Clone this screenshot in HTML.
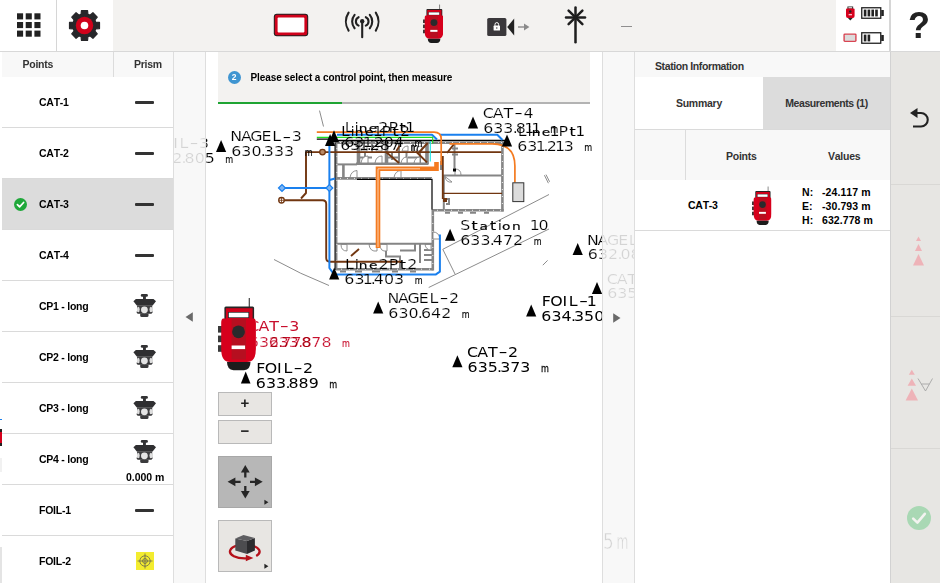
<!DOCTYPE html>
<html lang="en">
<head>
<meta charset="utf-8">
<title>Station Setup</title>
<style>
*{box-sizing:border-box;margin:0;padding:0}
html,body{width:940px;height:583px;overflow:hidden;background:#fff}
body{position:relative;font-family:"Liberation Sans",sans-serif;font-weight:bold;font-size:10.5px;color:#000;letter-spacing:-0.25px;font-kerning:none}
.abs{position:absolute}
/* top bar */
#top{position:absolute;left:0;top:0;width:940px;height:52px;background:#f3f2f0;border-bottom:1px solid #d8d8d8}
#top .box{position:absolute;top:0;height:51px;background:#fff}
#top svg{position:absolute}
/* left panel */
#left{position:absolute;left:2px;top:52px;width:171px;height:531px;background:#fff}
#left .hd{position:absolute;left:0;top:0;width:171px;height:25px;background:#f8f8f8;color:#333}
#left .hd span{position:absolute;top:6px;line-height:13px}
#left .hd i{position:absolute;left:111px;top:0;width:1px;height:25px;background:#dcdcdc}
.row{position:absolute;left:0;width:171px;height:51px;border-bottom:1px solid #dadada}
.row.sel{background:#dcdcdc}
.row .nm{position:absolute;left:37px;top:18px;line-height:14px;font-size:10.5px}
.row .dash{position:absolute;left:133px;top:24px;width:19px;height:3px;border-radius:1px;background:#333}
.row svg{position:absolute}
/* strips */
.strip{position:absolute;top:52px;height:531px;width:33px;background:rgba(247,247,247,0.86);border-left:1px solid #dedede;border-right:1px solid #dedede}
/* right panel */
#right{position:absolute;left:635px;top:52px;width:255px;height:531px;background:#fff}
#rbar{position:absolute;left:890px;top:52px;width:50px;height:531px;background:#e7e6e3;border-left:1px solid #d2d2d2}
#rbar i{position:absolute;left:0;width:49px;height:1px;background:#d9d8d5}
.lb text{mix-blend-mode:multiply}
.mbtn{position:absolute;left:218px;width:54px;background:#e8e6e3;border:1px solid #b9b9b9}
</style>
</head>
<body>

<!-- MAP -->
<svg id="map" class="abs" style="left:173px;top:52px" width="462" height="531" viewBox="173 52 462 531">
<g fill="none" stroke="#8c8c8c" stroke-width="1">
<path d="M319.5 110.6L323.5 126.5"/>
<path d="M274 259.5Q300 274 329 285.5"/>
<path d="M442.8 249.3L549 194.5"/>
<path d="M428.7 287.5L549 229"/>
<path d="M442.8 249.3L455 274"/>
<path d="M542.8 265.2L547.6 260.4"/>
<path d="M544.4 175.2L548.4 183.2M546 174.6L549.6 181.8"/>
</g>
<g fill="none" stroke="#858585" stroke-width="2.6">
<path d="M335.5 142.6H503.5"/>
<path d="M336.600 142V270" stroke-width="1.700"/>
<path d="M336 269.2H433.5"/>
<path d="M432.8 209V270.4"/>
<path d="M432 210.3H503.7"/>
<path d="M502.4 141V211.5"/>
<path d="M336 178.4H432"/>
<path d="M356 163.8H428.5"/>
<path d="M343.4 164V178"/>
</g>
<g fill="none" stroke="#858585" stroke-width="3.6">
<path d="M358.5 143V164M386.5 143V164M427 143V164"/>
</g>
<g fill="none" stroke="#858585" stroke-width="2">
<path d="M336 164.4H357"/>
<path d="M372 143V152M399 143V164M406.500 152V164M413 143V152M420 152V164"/>
<path d="M360 157.500H372M388 157.500H398M408 157.500H419M365 152.500V157M392 152.500V160"/>
<path d="M454.500 144V168.500M452 148.500H458M452 154.500H458"/>
<path d="M443 175.600H502"/>
<path d="M443.800 175.600V210"/>
<path d="M336 243.700H433"/>
<path d="M386 244V256.500H400V269M400 250.500H415V244"/>
<path d="M420 244V263M424 250H432M424 255H432M424 260H432"/>
<path d="M446 199H449V204H446M441 161V170"/>
<path d="M445 212.700H450M458 212.700H463M470 212.700H476M484 212.700H489"/>
<path d="M340 271.500H346M355 271.500H362M372 271.500H380M392 271.500H398M410 271.500H416"/>
</g>
<g fill="#fff" stroke="#858585" stroke-width="0.900">
<path d="M341 244.500Q341 251 347 251L347 244.500Z"/><path d="M369 244.500Q370 252 377 251L377 244.500Z"/><path d="M380 244.500Q380 252 387 251V244.500Z"/>
<path d="M350 177.500Q351 171 357 170.500V177.500Z"/><path d="M394 177.500Q395 171 401 170.500V177.500Z"/>
<path d="M445 176.500Q446 183 452 182L445 176.500"/><path d="M455 169Q461 169 461 175H455Z"/>
<path d="M433 232Q439 232 440 239L433 239Z"/><path d="M425 244.500Q426 250 431 250V244.500Z"/>
<path d="M361 163Q362 156 368 156L368 163ZM375 163Q376 156 382 156V163ZM401 163Q402 157 407 157V163ZM414 163Q415 157 420 157V163Z"/>
<path d="M361 151Q362 146 367 146V151ZM376 151Q377 146 382 146V151ZM402 151Q403 146 408 146V151ZM416 151Q417 146 422 146V151Z"/>
</g>
<g fill="#fff"><rect x="340.0" y="142.1" width="1" height="1" opacity="0.850"/><rect x="347.0" y="142.1" width="1" height="1" opacity="0.850"/><rect x="354.0" y="142.1" width="1" height="1" opacity="0.850"/><rect x="361.0" y="142.1" width="1" height="1" opacity="0.850"/><rect x="368.0" y="142.1" width="1" height="1" opacity="0.850"/><rect x="375.0" y="142.1" width="1" height="1" opacity="0.850"/><rect x="382.0" y="142.1" width="1" height="1" opacity="0.850"/><rect x="389.0" y="142.1" width="1" height="1" opacity="0.850"/><rect x="396.0" y="142.1" width="1" height="1" opacity="0.850"/><rect x="403.0" y="142.1" width="1" height="1" opacity="0.850"/><rect x="410.0" y="142.1" width="1" height="1" opacity="0.850"/><rect x="417.0" y="142.1" width="1" height="1" opacity="0.850"/><rect x="424.0" y="142.1" width="1" height="1" opacity="0.850"/><rect x="431.0" y="142.1" width="1" height="1" opacity="0.850"/><rect x="438.0" y="142.1" width="1" height="1" opacity="0.850"/><rect x="445.0" y="142.1" width="1" height="1" opacity="0.850"/><rect x="452.0" y="142.1" width="1" height="1" opacity="0.850"/><rect x="459.0" y="142.1" width="1" height="1" opacity="0.850"/><rect x="466.0" y="142.1" width="1" height="1" opacity="0.850"/><rect x="473.0" y="142.1" width="1" height="1" opacity="0.850"/><rect x="480.0" y="142.1" width="1" height="1" opacity="0.850"/><rect x="487.0" y="142.1" width="1" height="1" opacity="0.850"/><rect x="494.0" y="142.1" width="1" height="1" opacity="0.850"/><rect x="501.0" y="142.1" width="1" height="1" opacity="0.850"/><rect x="501.9" y="147.0" width="1" height="1" opacity="0.850"/><rect x="501.9" y="154.0" width="1" height="1" opacity="0.850"/><rect x="501.9" y="161.0" width="1" height="1" opacity="0.850"/><rect x="501.9" y="168.0" width="1" height="1" opacity="0.850"/><rect x="501.9" y="175.0" width="1" height="1" opacity="0.850"/><rect x="501.9" y="182.0" width="1" height="1" opacity="0.850"/><rect x="501.9" y="189.0" width="1" height="1" opacity="0.850"/><rect x="501.9" y="196.0" width="1" height="1" opacity="0.850"/><rect x="501.9" y="203.0" width="1" height="1" opacity="0.850"/><rect x="437.0" y="209.8" width="1" height="1" opacity="0.850"/><rect x="444.0" y="209.8" width="1" height="1" opacity="0.850"/><rect x="451.0" y="209.8" width="1" height="1" opacity="0.850"/><rect x="458.0" y="209.8" width="1" height="1" opacity="0.850"/><rect x="465.0" y="209.8" width="1" height="1" opacity="0.850"/><rect x="472.0" y="209.8" width="1" height="1" opacity="0.850"/><rect x="479.0" y="209.8" width="1" height="1" opacity="0.850"/><rect x="486.0" y="209.8" width="1" height="1" opacity="0.850"/><rect x="493.0" y="209.8" width="1" height="1" opacity="0.850"/><rect x="500.0" y="209.8" width="1" height="1" opacity="0.850"/><rect x="336.4" y="148.0" width="1" height="1" opacity="0.850"/><rect x="336.4" y="156.0" width="1" height="1" opacity="0.850"/><rect x="336.4" y="164.0" width="1" height="1" opacity="0.850"/><rect x="336.4" y="172.0" width="1" height="1" opacity="0.850"/><rect x="336.4" y="180.0" width="1" height="1" opacity="0.850"/><rect x="336.4" y="188.0" width="1" height="1" opacity="0.850"/><rect x="336.4" y="196.0" width="1" height="1" opacity="0.850"/><rect x="336.4" y="204.0" width="1" height="1" opacity="0.850"/><rect x="336.4" y="212.0" width="1" height="1" opacity="0.850"/><rect x="336.4" y="220.0" width="1" height="1" opacity="0.850"/><rect x="336.4" y="228.0" width="1" height="1" opacity="0.850"/><rect x="336.4" y="236.0" width="1" height="1" opacity="0.850"/><rect x="336.4" y="244.0" width="1" height="1" opacity="0.850"/><rect x="336.4" y="252.0" width="1" height="1" opacity="0.850"/><rect x="336.4" y="260.0" width="1" height="1" opacity="0.850"/><rect x="340.0" y="177.9" width="1" height="1" opacity="0.850"/><rect x="347.0" y="177.9" width="1" height="1" opacity="0.850"/><rect x="354.0" y="177.9" width="1" height="1" opacity="0.850"/><rect x="361.0" y="177.9" width="1" height="1" opacity="0.850"/><rect x="368.0" y="177.9" width="1" height="1" opacity="0.850"/><rect x="375.0" y="177.9" width="1" height="1" opacity="0.850"/><rect x="382.0" y="177.9" width="1" height="1" opacity="0.850"/><rect x="389.0" y="177.9" width="1" height="1" opacity="0.850"/><rect x="396.0" y="177.9" width="1" height="1" opacity="0.850"/><rect x="403.0" y="177.9" width="1" height="1" opacity="0.850"/><rect x="410.0" y="177.9" width="1" height="1" opacity="0.850"/><rect x="417.0" y="177.9" width="1" height="1" opacity="0.850"/><rect x="424.0" y="177.9" width="1" height="1" opacity="0.850"/><rect x="431.0" y="177.9" width="1" height="1" opacity="0.850"/><rect x="341.0" y="268.7" width="1" height="1" opacity="0.850"/><rect x="349.0" y="268.7" width="1" height="1" opacity="0.850"/><rect x="357.0" y="268.7" width="1" height="1" opacity="0.850"/><rect x="365.0" y="268.7" width="1" height="1" opacity="0.850"/><rect x="373.0" y="268.7" width="1" height="1" opacity="0.850"/><rect x="381.0" y="268.7" width="1" height="1" opacity="0.850"/><rect x="389.0" y="268.7" width="1" height="1" opacity="0.850"/><rect x="397.0" y="268.7" width="1" height="1" opacity="0.850"/><rect x="405.0" y="268.7" width="1" height="1" opacity="0.850"/><rect x="413.0" y="268.7" width="1" height="1" opacity="0.850"/><rect x="421.0" y="268.7" width="1" height="1" opacity="0.850"/><rect x="429.0" y="268.7" width="1" height="1" opacity="0.850"/><rect x="432.3" y="215.0" width="1" height="1" opacity="0.850"/><rect x="432.3" y="223.0" width="1" height="1" opacity="0.850"/><rect x="432.3" y="231.0" width="1" height="1" opacity="0.850"/><rect x="432.3" y="239.0" width="1" height="1" opacity="0.850"/><rect x="432.3" y="247.0" width="1" height="1" opacity="0.850"/><rect x="432.3" y="255.0" width="1" height="1" opacity="0.850"/><rect x="432.3" y="263.0" width="1" height="1" opacity="0.850"/></g>
<rect x="453" y="168.500" width="3" height="3" fill="#000"/>
<g fill="none" stroke="#000" stroke-width="1.2">
<path d="M316.8 139.2H335M335 140.4H505"/>
<path d="M335.1 142.5V270"/>
<path d="M357 179.4H432V209.4"/>
</g>
<g fill="none" stroke="#713610" stroke-width="1.900" stroke-linejoin="round">
<path d="M501.3 152.1H306V193L301 198.5"/>
<path d="M283 200.3H322.5Q326.2 200.3 326.2 204V258Q326.2 261.7 330 261.7H402"/>
<path d="M427 162.400L416 151.500M454 144L447 153M399 163L386 152M396.400 151L399.600 145.700M419.400 152L427.700 143"/>
<path d="M442.8 156V199"/>
<path d="M443 193.300H502" stroke-width="1.200"/>
<path d="M351 256L359 249"/>
</g>
<circle cx="322.5" cy="152.1" r="2.8" fill="#b98a66" stroke="#713610" stroke-width="1.3"/>
<circle cx="281.5" cy="200.3" r="2.8" fill="#fff" stroke="#713610" stroke-width="1.3"/><path d="M279 200.3H284M281.5 197.8V203" stroke="#713610" stroke-width="0.8"/>
<rect x="443" y="198" width="4" height="4" fill="#713610"/>
<g fill="none" stroke="#1a80ee" stroke-width="2" stroke-linejoin="round">
<path d="M337 134.8H432L437 139.5M440 134.8H497.3L502.5 140"/>
<path d="M329.4 146V268L334 274.4H435.9L439.9 271.6V234.6"/>
<path d="M282 188H329.4"/>
<path d="M329.5 180L335 178.5"/>
</g>
<g fill="#7db6f5" stroke="#1a80ee" stroke-width="1.2"><path d="M278.5 188L282 184.5L285.5 188L282 191.5Z"/><path d="M326 188L329.4 184.6L332.8 188L329.4 191.4Z"/></g>
<path d="M316.8 137.4H432.7V143.5" fill="none" stroke="#1fe01f" stroke-width="1.1"/>
<path d="M430.3 141V161.6" fill="none" stroke="#19e6e6" stroke-width="1.1"/>
<g fill="none" stroke="#f47b20" stroke-width="1.7">
<path d="M316.8 132.1H434Q441.2 132.1 441.2 139V165"/>
<path d="M449.5 143.8H492Q514.9 143.8 514.9 166V182.4"/>
</g>
<path d="M378 248V168.8H436.5V162" fill="none" stroke="#f47b20" stroke-width="4.6" stroke-linejoin="miter"/>
<path d="M378 247V168.8H420" fill="none" stroke="#ffd9bd" stroke-width="0.9"/>
<rect x="512.8" y="182.8" width="11" height="18.8" fill="#dcdcdc" stroke="#333" stroke-width="1"/>
<g font-family="DejaVu Sans, Liberation Sans, sans-serif" font-size="14.4" font-weight="normal" letter-spacing="0" class="lb">
<text text-anchor="middle" transform="translate(194.1 147.6) scale(1.75 1)" fill="#000" stroke="#fff" stroke-width="0.2">-</text><text text-anchor="middle" transform="scale(1.1 1)" y="147.6" x="142.73 151.91 159.55 167.18 185.55" fill="#000" stroke="#fff" stroke-width="0.2">FOIL3</text><text text-anchor="middle" font-size="10.4" transform="translate(229.3 162.7) scale(0.78 1)" fill="#000" stroke="#000" stroke-width="0.15">m</text><text text-anchor="middle" transform="scale(1.1 1)" y="162.7" x="142.73 151.91 161.09 167.27 172.36 181.55 190.73" fill="#000" stroke="#fff" stroke-width="0.2">632.805</text>
<path d="M221.1 139.9 L226.2 151.9 H216.0Z" fill="#000"/><text text-anchor="middle" transform="translate(286.9 141.5) scale(1.75 1)" fill="#000" stroke="#fff" stroke-width="0.2">-</text><text text-anchor="middle" transform="scale(1.1 1)" y="141.5" x="214.82 224.00 233.18 242.36 251.55 269.91" fill="#000" stroke="#fff" stroke-width="0.2">NAGEL3</text><text text-anchor="middle" font-size="10.4" transform="translate(308.6 156.4) scale(0.78 1)" fill="#000" stroke="#000" stroke-width="0.15">m</text><text text-anchor="middle" transform="scale(1.1 1)" y="156.4" x="214.82 224.00 233.18 239.36 244.45 253.64 262.82" fill="#000" stroke="#fff" stroke-width="0.2">630.333</text>
<path d="M330.1 134 L335.20000000000005 146 H325.0Z" fill="#000"/><text text-anchor="middle" font-size="11.5" x="352.7" y="135.6" fill="#000" stroke="#000" stroke-width="0.15">i</text><text text-anchor="middle" font-size="10.6" transform="translate(359.1 135.6) scale(1.3 1)" fill="#000" stroke="#000" stroke-width="0.15">n</text><text text-anchor="middle" font-size="10.6" transform="translate(369.2 135.6) scale(1.3 1)" fill="#000" stroke="#000" stroke-width="0.15">e</text><text text-anchor="middle" font-size="12.5" transform="translate(395.6 135.6) scale(1.25 1)" fill="#000" stroke="#000" stroke-width="0.15">t</text><text text-anchor="middle" transform="scale(1.1 1)" y="135.6" x="313.91 343.36 351.27 368.18" fill="#000" stroke="#fff" stroke-width="0.2">L1P2</text><text text-anchor="middle" font-size="10.4" transform="translate(414.5 150.5) scale(0.78 1)" fill="#000" stroke="#000" stroke-width="0.15">m</text><text text-anchor="middle" transform="scale(1.1 1)" y="150.5" x="313.91 323.09 330.73 335.64 340.73 349.91 359.09" fill="#000" stroke="#fff" stroke-width="0.2">631.287</text>
<path d="M334 130.2 L339.1 142.2 H328.9Z" fill="#000"/><text text-anchor="middle" font-size="11.5" x="356.6" y="131.79999999999998" fill="#000" stroke="#000" stroke-width="0.15">i</text><text text-anchor="middle" font-size="10.6" transform="translate(363.0 131.79999999999998) scale(1.3 1)" fill="#000" stroke="#000" stroke-width="0.15">n</text><text text-anchor="middle" font-size="10.6" transform="translate(373.1 131.79999999999998) scale(1.3 1)" fill="#000" stroke="#000" stroke-width="0.15">e</text><text text-anchor="middle" font-size="12.5" transform="translate(402.6 131.79999999999998) scale(1.25 1)" fill="#000" stroke="#000" stroke-width="0.15">t</text><text text-anchor="middle" transform="scale(1.1 1)" y="131.79999999999998" x="317.45 348.45 357.64 373.00" fill="#000" stroke="#fff" stroke-width="0.2">L2P1</text><text text-anchor="middle" font-size="10.4" transform="translate(418.4 146.7) scale(0.78 1)" fill="#000" stroke="#000" stroke-width="0.15">m</text><text text-anchor="middle" transform="scale(1.1 1)" y="146.7" x="317.45 326.64 334.27 339.18 344.27 353.45 362.64" fill="#000" stroke="#fff" stroke-width="0.2">631.204</text>
<path d="M473 116.6 L478.1 128.6 H467.9Z" fill="#000"/><text text-anchor="middle" transform="translate(518.6 118.19999999999999) scale(1.75 1)" fill="#000" stroke="#fff" stroke-width="0.2">-</text><text text-anchor="middle" transform="scale(1.1 1)" y="118.19999999999999" x="443.82 453.00 462.18 480.55" fill="#000" stroke="#fff" stroke-width="0.2">CAT4</text><text text-anchor="middle" font-size="10.4" transform="translate(554.3 133.1) scale(0.78 1)" fill="#000" stroke="#000" stroke-width="0.15">m</text><text text-anchor="middle" transform="scale(1.1 1)" y="133.1" x="443.82 453.00 462.18 468.36 473.45 481.09 487.45" fill="#000" stroke="#fff" stroke-width="0.2">633.811</text>
<path d="M507 134.4 L512.1 146.4 H501.9Z" fill="#000"/><text text-anchor="middle" font-size="11.5" x="529.6" y="136.0" fill="#000" stroke="#000" stroke-width="0.15">i</text><text text-anchor="middle" font-size="10.6" transform="translate(536.0 136.0) scale(1.3 1)" fill="#000" stroke="#000" stroke-width="0.15">n</text><text text-anchor="middle" font-size="10.6" transform="translate(546.1 136.0) scale(1.3 1)" fill="#000" stroke="#000" stroke-width="0.15">e</text><text text-anchor="middle" font-size="12.5" transform="translate(572.5 136.0) scale(1.25 1)" fill="#000" stroke="#000" stroke-width="0.15">t</text><text text-anchor="middle" transform="scale(1.1 1)" y="136.0" x="474.73 504.18 512.09 527.45" fill="#000" stroke="#fff" stroke-width="0.2">L1P1</text><text text-anchor="middle" font-size="10.4" transform="translate(588.3 150.9) scale(0.78 1)" fill="#000" stroke="#000" stroke-width="0.15">m</text><text text-anchor="middle" transform="scale(1.1 1)" y="150.9" x="474.73 483.91 491.55 496.45 501.55 509.18 517.09" fill="#000" stroke="#fff" stroke-width="0.2">631.213</text>
<path d="M450.1 228.8 L455.20000000000005 240.8 H445.0Z" fill="#000"/><text text-anchor="middle" font-size="12.5" transform="translate(474.5 230.4) scale(1.25 1)" fill="#000" stroke="#000" stroke-width="0.15">t</text><text text-anchor="middle" font-size="10.6" transform="translate(483.8 230.4) scale(1.3 1)" fill="#000" stroke="#000" stroke-width="0.15">a</text><text text-anchor="middle" font-size="12.5" transform="translate(493.1 230.4) scale(1.25 1)" fill="#000" stroke="#000" stroke-width="0.15">t</text><text text-anchor="middle" font-size="11.5" x="499.8" y="230.4" fill="#000" stroke="#000" stroke-width="0.15">i</text><text text-anchor="middle" font-size="10.6" transform="translate(506.2 230.4) scale(1.3 1)" fill="#000" stroke="#000" stroke-width="0.15">o</text><text text-anchor="middle" font-size="10.6" transform="translate(516.3 230.4) scale(1.3 1)" fill="#000" stroke="#000" stroke-width="0.15">n</text><text text-anchor="middle" transform="scale(1.1 1)" y="230.4" x="423.00 486.27 494.18" fill="#000" stroke="#fff" stroke-width="0.2">S10</text><text text-anchor="middle" font-size="10.4" transform="translate(537.6 245.3) scale(0.78 1)" fill="#000" stroke="#000" stroke-width="0.15">m</text><text text-anchor="middle" transform="scale(1.1 1)" y="245.3" x="423.00 432.18 441.36 447.55 452.64 461.82 471.00" fill="#000" stroke="#fff" stroke-width="0.2">633.472</text>
<path d="M577.7 243 L582.8000000000001 255 H572.6Z" fill="#000"/><text text-anchor="middle" transform="translate(643.5 244.6) scale(1.75 1)" fill="#000" stroke="#fff" stroke-width="0.2">-</text><text text-anchor="middle" transform="scale(1.1 1)" y="244.6" x="539.00 548.18 557.36 566.55 575.73 592.55" fill="#000" stroke="#fff" stroke-width="0.2">NAGEL1</text><text text-anchor="middle" font-size="10.4" transform="translate(665.2 259.5) scale(0.78 1)" fill="#000" stroke="#000" stroke-width="0.15">m</text><text text-anchor="middle" transform="scale(1.1 1)" y="259.5" x="539.00 548.18 557.36 563.55 568.64 577.82 587.00" fill="#000" stroke="#fff" stroke-width="0.2">632.087</text>
<path d="M597 282 L602.1 294 H591.9Z" fill="#000"/><text text-anchor="middle" transform="translate(642.6 283.6) scale(1.75 1)" fill="#000" stroke="#fff" stroke-width="0.2">-</text><text text-anchor="middle" transform="scale(1.1 1)" y="283.6" x="556.55 565.73 574.91 591.73" fill="#000" stroke="#fff" stroke-width="0.2">CAT1</text><text text-anchor="middle" font-size="10.4" transform="translate(681.4 298.5) scale(0.78 1)" fill="#000" stroke="#000" stroke-width="0.15">m</text><text text-anchor="middle" transform="scale(1.1 1)" y="298.5" x="556.55 565.73 574.91 581.09 586.18 593.82 601.73" fill="#000" stroke="#fff" stroke-width="0.2">635.512</text>
<path d="M531.2 304.5 L536.3000000000001 316.5 H526.1Z" fill="#000"/><text text-anchor="middle" transform="translate(583.5 306.1) scale(1.75 1)" fill="#000" >-</text><text text-anchor="middle" transform="scale(1.1 1)" y="306.1" x="496.73 505.91 513.55 521.18 538.00" fill="#000" >FOIL1</text><text text-anchor="middle" transform="scale(1.1 1)" y="321.0" x="496.73 505.91 515.09 521.27 526.36 535.55 544.73" fill="#000" >634.350</text>
<path d="M378.2 301.4 L383.3 313.4 H373.09999999999997Z" fill="#000"/><text text-anchor="middle" transform="translate(444.0 303.0) scale(1.75 1)" fill="#000" stroke="#fff" stroke-width="0.2">-</text><text text-anchor="middle" transform="scale(1.1 1)" y="303.0" x="357.64 366.82 376.00 385.18 394.36 412.73" fill="#000" stroke="#fff" stroke-width="0.2">NAGEL2</text><text text-anchor="middle" font-size="10.4" transform="translate(465.7 317.9) scale(0.78 1)" fill="#000" stroke="#000" stroke-width="0.15">m</text><text text-anchor="middle" transform="scale(1.1 1)" y="317.9" x="357.64 366.82 376.00 382.18 387.27 396.45 405.64" fill="#000" stroke="#fff" stroke-width="0.2">630.642</text>
<path d="M457.4 355.2 L462.5 367.2 H452.29999999999995Z" fill="#000"/><text text-anchor="middle" transform="translate(503.0 356.8) scale(1.75 1)" fill="#000" >-</text><text text-anchor="middle" transform="scale(1.1 1)" y="356.8" x="429.64 438.82 448.00 466.36" fill="#000" >CAT2</text><text text-anchor="middle" font-size="10.4" transform="translate(544.9 371.7) scale(0.78 1)" fill="#000" stroke="#000" stroke-width="0.25">m</text><text text-anchor="middle" transform="scale(1.1 1)" y="371.7" x="429.64 438.82 448.00 454.18 459.27 468.45 477.64" fill="#000" >635.373</text>
<path d="M334.2 267.6 L339.3 279.6 H329.09999999999997Z" fill="#000"/><text text-anchor="middle" font-size="11.5" x="356.8" y="269.20000000000005" fill="#000" stroke="#000" stroke-width="0.15">i</text><text text-anchor="middle" font-size="10.6" transform="translate(363.2 269.20000000000005) scale(1.3 1)" fill="#000" stroke="#000" stroke-width="0.15">n</text><text text-anchor="middle" font-size="10.6" transform="translate(373.3 269.20000000000005) scale(1.3 1)" fill="#000" stroke="#000" stroke-width="0.15">e</text><text text-anchor="middle" font-size="12.5" transform="translate(402.8 269.20000000000005) scale(1.25 1)" fill="#000" stroke="#000" stroke-width="0.15">t</text><text text-anchor="middle" transform="scale(1.1 1)" y="269.20000000000005" x="317.64 348.64 357.82 374.73" fill="#000" stroke="#fff" stroke-width="0.2">L2P2</text><text text-anchor="middle" font-size="10.4" transform="translate(418.6 284.1) scale(0.78 1)" fill="#000" stroke="#000" stroke-width="0.15">m</text><text text-anchor="middle" transform="scale(1.1 1)" y="284.1" x="317.64 326.82 334.45 339.36 344.45 353.64 362.82" fill="#000" stroke="#fff" stroke-width="0.2">631.403</text>
<text text-anchor="middle" transform="translate(284.3 331) scale(1.75 1)" fill="#c8102e" >-</text><text text-anchor="middle" transform="scale(1.1 1)" y="331" x="230.82 240.00 249.18 267.55" fill="#c8102e" >CAT3</text>
<text text-anchor="middle" transform="scale(1.1 1)" y="346.7" x="230.82 240.00 249.18 255.36 260.45 269.64 278.82" fill="#c8102e" stroke="#fff" stroke-width="0.2">632.778</text>
<text text-anchor="middle" font-size="10.4" transform="translate(346.0 346.7) scale(0.78 1)" fill="#c8102e" stroke="#c8102e" stroke-width="0.15">m</text><text text-anchor="middle" transform="scale(1.1 1)" y="346.7" x="248.82 258.00 267.18 273.36 278.45 287.64 296.82" fill="#c8102e" stroke="#fff" stroke-width="0.2">633.878</text>
<path d="M245.7 371.5 L250.5 383.5 H240.89999999999998Z" fill="#000"/><text text-anchor="middle" transform="translate(298.0 373.1) scale(1.75 1)" fill="#000" >-</text><text text-anchor="middle" transform="scale(1.1 1)" y="373.1" x="237.18 246.36 254.00 261.64 280.00" fill="#000" >FOIL2</text><text text-anchor="middle" font-size="10.4" transform="translate(333.2 388.0) scale(0.78 1)" fill="#000" stroke="#000" stroke-width="0.25">m</text><text text-anchor="middle" transform="scale(1.1 1)" y="388.0" x="237.18 246.36 255.55 261.73 266.82 276.00 285.18" fill="#000" >633.889</text>
<text font-size="21.500" transform="translate(603 548.900) scale(0.780 1)" fill="#000" stroke="#fff" stroke-width="0.500">5</text><text font-size="21" transform="translate(616.500 548.900) scale(0.580 1)" fill="#000" stroke="#fff" stroke-width="0.500">m</text>
</g>
<svg x="217" y="296" width="40" height="76" viewBox="-1 -1 40 76"><g stroke="#fff" stroke-width="2.200" stroke-linejoin="round"><use href="#ts" width="38" height="74"/></g><use href="#ts" width="38" height="74"/></svg>
</svg>

<!-- translucent strips -->
<div class="strip" style="left:173px"></div>
<div class="strip" style="left:602px"></div>
<svg class="abs" style="left:184px;top:311px" width="10" height="12" viewBox="0 0 10 12"><path d="M8.8 1.2 L1.5 6 L8.8 10.8 Z" fill="#6a6a6a"/></svg>
<svg class="abs" style="left:612px;top:312px" width="10" height="12" viewBox="0 0 10 12"><path d="M1.2 1.2 L8.5 6 L1.2 10.8 Z" fill="#6a6a6a"/></svg>

<!-- instruction -->
<div class="abs" style="left:218px;top:52px;width:372px;height:50px;background:#f3f2f0"></div>
<div class="abs" style="left:218px;top:102px;width:372px;height:2px;background:#b3b3b3"></div>
<div class="abs" style="left:218px;top:102px;width:124px;height:2px;background:#1fa433"></div>
<div class="abs" style="left:227.5px;top:70.5px;width:13px;height:13px;border-radius:50%;background:#3f95d1;color:#fff;font-size:8.5px;line-height:13px;text-align:center;letter-spacing:0">2</div>
<div class="abs" style="left:250.5px;top:71px;line-height:13px;font-size:10px;white-space:nowrap;letter-spacing:-0.090px">Please select a control point, then measure</div>

<!-- map buttons -->
<div class="mbtn" style="top:392px;height:24px"></div>
<div class="mbtn" style="top:420px;height:24px"></div>
<div class="mbtn" style="top:456px;height:52px;background:#b7b7b7;border-color:#a8a8a8"></div>
<div class="mbtn" style="top:520px;height:52px"></div>
<div class="abs" style="left:218px;top:392px;width:54px;height:24px;text-align:center;line-height:22px;font-size:15px;color:#222;letter-spacing:0">+</div>
<div class="abs" style="left:218px;top:420px;width:54px;height:24px;text-align:center;line-height:21px;font-size:15px;color:#222;letter-spacing:0">−</div>
<svg class="abs" style="left:218px;top:456px" width="54" height="52" viewBox="218 456 54 52"><g stroke="#262626" stroke-width="2.3" fill="none"><path d="M245.300 471V477.500M245.300 486V493M234 481.800H240.600M250 481.800H257"/></g><g fill="#262626"><path d="M245.300 465L249.700 472.500H240.900Z"/><path d="M245.300 498.600L249.700 491.100H240.900Z"/><path d="M227.600 481.800L235.400 477.400V486.200Z"/><path d="M262.700 481.800L254.900 477.400V486.200Z"/><path d="M264.400 499.800L268.400 502.300L264.400 504.800Z"/></g></svg>
<svg class="abs" style="left:218px;top:520px" width="54" height="52" viewBox="218 520 54 52"><path d="M256.200 555.900A14.800 6.900 0 1 0 246 558.400" fill="none" stroke="#b5121b" stroke-width="2.300"/><path d="M245.800 554.800L253.400 558L245.800 561.300Z" fill="#b5121b"/><path d="M235.300 538.500L247 541V554L235.300 550.500Z" fill="#4c4c4f"/><path d="M247 541L254.900 538V550.500L247 554Z" fill="#2b2b2e"/><path d="M235.300 538.500L243.500 535L254.900 538L247 541Z" fill="#5e5e61"/><path d="M264.400 563.800L268.400 566.300L264.400 568.800Z" fill="#262626"/></svg>

<!-- edge slivers -->
<div class="abs" style="left:0;top:418.500px;width:2px;height:1.500px;background:#1a80ee"></div>
<div class="abs" style="left:0;top:429px;width:2px;height:17px;background:#d6001c;border-top:3px solid #222;border-bottom:3px solid #222"></div>
<div class="abs" style="left:0;top:458px;width:2px;height:14px;background:#f1f1f1"></div>
<div class="abs" style="left:0;top:547px;width:2px;height:36px;background:#e4e4e4"></div>
<!-- LEFT PANEL -->
<div id="left">
  <div class="hd"><span style="left:20.5px">Points</span><span style="left:132px">Prism</span><i></i></div>
  <div class="row" style="top:25px"><span class="nm">CAT-1</span><b class="dash"></b></div>
  <div class="row" style="top:76px"><span class="nm">CAT-2</span><b class="dash"></b></div>
  <div class="row sel" style="top:127px"><span class="nm">CAT-3</span><b class="dash"></b>
    <svg style="left:12px;top:19px" width="13" height="13" viewBox="0 0 13 13"><circle cx="6.5" cy="6.5" r="6.5" fill="#1fa83a"/><path d="M3.4 6.7 L5.6 8.9 L9.6 4.5" fill="none" stroke="#fff" stroke-width="1.7" stroke-linecap="round" stroke-linejoin="round"/></svg>
  </div>
  <div class="row" style="top:178px"><span class="nm">CAT-4</span><b class="dash"></b></div>
  <div class="row" style="top:229px"><span class="nm">CP1 - long</span><svg style="left:130px;top:12px" width="25" height="26"><use href="#prism"/></svg></div>
  <div class="row" style="top:280px"><span class="nm">CP2 - long</span><svg style="left:130px;top:12px" width="25" height="26"><use href="#prism"/></svg></div>
  <div class="row" style="top:331px"><span class="nm">CP3 - long</span><svg style="left:130px;top:12px" width="25" height="26"><use href="#prism"/></svg></div>
  <div class="row" style="top:382px"><span class="nm">CP4 - long</span><svg style="left:130px;top:5px" width="25" height="26"><use href="#prism"/></svg><span class="abs" style="left:124px;top:36.800px;line-height:12px;font-size:10.500px;letter-spacing:-0.050px">0.000 m</span></div>
  <div class="row" style="top:433px"><span class="nm">FOIL-1</span><b class="dash"></b></div>
  <div class="row" style="top:484px;border:0"><span class="nm">FOIL-2</span>
    <svg style="left:134px;top:16px" width="18" height="18" viewBox="0 0 18 18"><rect width="18" height="18" fill="#f3ec2f"/><g fill="none" stroke="#555" stroke-width="0.7"><circle cx="9" cy="9" r="5.2"/><circle cx="9" cy="9" r="2.4"/><path d="M9 1.5V16.5M1.5 9H16.5"/></g></svg>
  </div>
</div>

<!-- RIGHT PANEL -->
<div id="right">
  <div class="abs" style="left:0;top:0;width:255px;height:25px;background:#f8f8f8;color:#333"><span class="abs" style="left:20px;top:7.5px;line-height:13px;white-space:nowrap;font-size:10.5px;letter-spacing:-0.4px">Station Information</span></div>
  <div class="abs" style="left:0;top:25px;width:128px;height:52px;background:#fff;color:#333;text-align:center;line-height:52px">Summary</div>
  <div class="abs" style="left:128px;top:25px;width:127px;height:52px;background:#dcdcdc;color:#333;text-align:center;line-height:52px;letter-spacing:-0.42px">Measurements (1)</div>
  <div class="abs" style="left:0;top:77px;width:255px;height:1px;background:#dadada"></div>
  <div class="abs" style="left:0;top:78px;width:255px;height:50px;background:#f8f8f8;color:#333">
     <i class="abs" style="left:50px;top:0;width:1px;height:50px;background:#dcdcdc"></i>
     <span class="abs" style="left:91px;top:19.700px;line-height:13px">Points</span>
     <span class="abs" style="left:193px;top:19.700px;line-height:13px">Values</span>
  </div>
  <div class="abs" style="left:0;top:128px;width:255px;height:51px;background:#fff;border-bottom:1px solid #dadada">
     <span class="abs" style="left:53px;top:19.400px;line-height:13px">CAT-3</span>
     <svg class="abs" style="left:117px;top:5.500px" width="19.500" height="39.500" viewBox="0 0 38 74" preserveAspectRatio="none"><use href="#ts"/></svg>
     <div class="abs" style="left:167px;top:4.700px;line-height:14px;font-size:10.500px;white-space:nowrap;letter-spacing:0.080px">
       <div><span style="display:inline-block;width:20px">N:</span>-24.117 m</div>
       <div><span style="display:inline-block;width:20px">E:</span>-30.793 m</div>
       <div><span style="display:inline-block;width:20px">H:</span>632.778 m</div>
     </div>
  </div>
</div>

<!-- right action bar -->
<div id="rbar">
  <i style="top:132px"></i><i style="top:264px"></i><i style="top:396px"></i>
  <svg class="abs" style="left:17px;top:54px" width="24" height="24" viewBox="907 106 24 24"><path d="M912 126.500H920A6.500 6.500 0 0 0 920 113H914" fill="none" stroke="#222" stroke-width="2.100"/><path d="M909 113L916.500 108V118Z" fill="#222"/></svg>
<svg class="abs" style="left:17px;top:182px" width="20" height="36" viewBox="907 234 20 36"><g fill="#eeb3b8"><path d="M917.500 236.500L920 241H915Z"/><path d="M917.500 244L921 251H914Z"/><path d="M917.500 254L923 265.500H912Z"/></g></svg>
<svg class="abs" style="left:12px;top:314px" width="34" height="38" viewBox="902 366 34 38"><g fill="#eeb3b8"><path d="M910.800 369.800L913.800 374.800H907.800Z"/><path d="M910.800 378.500L915 385.800H906.600Z"/><path d="M910.800 388.600L917 400.600H904.600Z"/></g><path d="M917 378.500L924.500 391L931.500 378.500M920.300 384H928.400" fill="none" stroke="#a5a5a5" stroke-width="0.900"/></svg>
<svg class="abs" style="left:15px;top:453px" width="26" height="26" viewBox="0 0 26 26"><circle cx="13" cy="13" r="12" fill="#a9d8b4"/><path d="M7.200 13.600L11.400 17.600L18.800 8.800" fill="none" stroke="#f3f3f0" stroke-width="2.600" stroke-linecap="round" stroke-linejoin="round"/></svg>
</div>

<!-- TOP BAR -->
<div id="top">
  <div class="box" style="left:0;width:56px"></div>
  <div class="abs" style="left:56px;top:0;width:1px;height:51px;background:#d6d6d6"></div>
  <div class="box" style="left:57px;width:56px"></div>
  <div class="box" style="left:836px;width:53px"></div>
  <div class="abs" style="left:889px;top:0;width:2px;height:51px;background:#d6d6d6"></div>
  <div class="box" style="left:891px;width:49px"></div>
  
  <svg style="left:17px;top:13px" width="24" height="24" viewBox="0 0 24 24"><g fill="#222"><rect x="0" y="0.3" width="6.1" height="6.1"/><rect x="8.7" y="0.3" width="6.1" height="6.1"/><rect x="17.4" y="0.3" width="6.1" height="6.1"/><rect x="0" y="9" width="6.1" height="6.1"/><rect x="8.7" y="9" width="6.1" height="6.1"/><rect x="17.4" y="9" width="6.1" height="6.1"/><rect x="0" y="17.6" width="6.1" height="6.1"/><rect x="8.7" y="17.6" width="6.1" height="6.1"/><rect x="17.4" y="17.6" width="6.1" height="6.1"/></g></svg>
  <svg style="left:68px;top:8.5px" width="33" height="33" viewBox="-16.5 -16.5 33 33"><path d="M-3.43 -11.08 L-3.04 -15.00 L3.04 -15.00 L3.43 -11.08 L5.41 -10.26 L8.45 -12.75 L12.75 -8.45 L10.26 -5.41 L11.08 -3.43 L15.00 -3.04 L15.00 3.04 L11.08 3.43 L10.26 5.41 L12.75 8.45 L8.45 12.75 L5.41 10.26 L3.43 11.08 L3.04 15.00 L-3.04 15.00 L-3.43 11.08 L-5.41 10.26 L-8.45 12.75 L-12.75 8.45 L-10.26 5.41 L-11.08 3.43 L-15.00 3.04 L-15.00 -3.04 L-11.08 -3.43 L-10.26 -5.41 L-12.75 -8.45 L-8.45 -12.75 L-5.41 -10.26Z" fill="#27272a" stroke="#27272a" stroke-width="1.2" stroke-linejoin="round"/><circle r="12" fill="#27272a"/><circle r="8.7" fill="#d0021b"/><circle r="3.8" fill="#fff"/></svg>
  <svg style="left:273px;top:13px" width="36" height="24" viewBox="0 0 36 24"><rect x="0.8" y="0.8" width="34.4" height="22.4" rx="3" fill="#222"/><rect x="1.8" y="1.8" width="32.4" height="20.4" rx="2.2" fill="#d0021b"/><rect x="4.6" y="4.6" width="26.8" height="14.8" rx="0.8" fill="#fff"/></svg>
  <svg style="left:342px;top:8px" width="40" height="32" viewBox="342 8 40 32"><g fill="none" stroke="#222" stroke-width="2.100" stroke-linecap="round"><path d="M362.2 21.5V37.2"/><path d="M358.6 17.2A4.6 4.6 0 0 0 358.6 25.6M365.8 17.2A4.6 4.6 0 0 1 365.8 25.6"/><path d="M354.6 14.9A10.4 10.4 0 0 0 354.6 28.3M369.8 14.9A10.4 10.4 0 0 1 369.8 28.3"/><path d="M348.6 12.6A16.5 16.5 0 0 0 348.6 30.6M375.8 12.6A16.5 16.5 0 0 1 375.8 30.6"/></g><circle cx="362.2" cy="21.3" r="2.2" fill="#222"/></svg>
  <svg style="left:423px;top:4.300px" width="20.300" height="39.500" viewBox="0 0 38 74" preserveAspectRatio="none"><use href="#ts"/></svg>
  <svg style="left:486px;top:16px" width="46" height="22" viewBox="486 16 46 22"><rect x="487.2" y="18" width="19.2" height="18" rx="1.6" fill="#3a383b"/><path d="M507.2 27 L514.2 18.6 V35.6 Z" fill="#222"/><g fill="#fff"><rect x="493.6" y="25.6" width="6.4" height="5" rx="0.6"/></g><path d="M495 25.8V24.4A1.8 1.8 0 0 1 498.6 24.4V25.8" fill="none" stroke="#fff" stroke-width="1"/><circle cx="496.8" cy="28" r="0.7" fill="#3a383b"/><path d="M518 27H525" stroke="#8a8a8a" stroke-width="1.4"/><path d="M524 23.6L529.4 27L524 30.4Z" fill="#8a8a8a"/></svg>
  <svg style="left:563px;top:5px" width="25" height="40" viewBox="563 5 25 40"><g stroke="#1e1e1e" stroke-width="2.500" stroke-linecap="round"><path d="M575.5 7.6V42.300"/><path d="M566 17.4H585"/><path d="M568.6 10.6L582.4 24.2"/><path d="M582.4 10.6L568.6 24.2"/></g></svg>
  <div class="abs" style="left:621px;top:26px;width:11px;height:1px;background:#8f8f8f"></div>
  <svg style="left:846px;top:5.500px" width="8.600" height="15" viewBox="0 0 36 60" preserveAspectRatio="none"><path d="M6 2H30V12H6Z" fill="#222"/><rect x="10" y="5" width="16" height="5" fill="#fff"/><path d="M4 10H32Q36 10 36 14V40Q36 48 28 48H8Q0 48 0 40V14Q0 10 4 10Z" fill="#d6001c"/><circle cx="18" cy="22" r="5" fill="#222"/><rect x="11" y="33" width="14" height="4" fill="#fff"/><path d="M8 48H28L18 58Z" fill="#222"/></svg>
  <svg style="left:861px;top:6.5px" width="24" height="12" viewBox="0 0 24 12"><rect x="0.75" y="0.75" width="19" height="10.5" fill="#fff" stroke="#222" stroke-width="1.3"/><rect x="20.2" y="3" width="2.6" height="6" fill="#222"/><g fill="#222"><rect x="2.8" y="2.6" width="2.6" height="6.8"/><rect x="6.6" y="2.6" width="2.6" height="6.8"/><rect x="10.4" y="2.6" width="2.6" height="6.8"/><rect x="14.2" y="2.6" width="2.6" height="6.8"/></g></svg>
  <svg style="left:843px;top:33px" width="14" height="10" viewBox="0 0 14 10"><rect x="0.4" y="0.4" width="13.2" height="8.6" rx="1.4" fill="#d94452"/><rect x="1.8" y="1.7" width="10.4" height="6" rx="0.5" fill="#dcdcdc"/></svg>
  <svg style="left:861px;top:31.5px" width="24" height="12" viewBox="0 0 24 12"><rect x="0.75" y="0.75" width="19" height="10.5" fill="#fff" stroke="#222" stroke-width="1.3"/><rect x="20.2" y="3" width="2.6" height="6" fill="#222"/><g fill="#222"><rect x="2.8" y="2.6" width="2.6" height="6.8"/><rect x="6.6" y="2.6" width="2.6" height="6.8"/></g></svg>

  <div class="abs" style="left:908px;top:5.200px;width:22px;font-size:36px;line-height:42px;text-align:center;color:#222;letter-spacing:0">?</div>
</div>

<!-- shared symbols -->
<svg width="0" height="0" style="position:absolute">
 <defs>
  <symbol id="prism" viewBox="0 0 25 26">
    <rect x="8.800" y="0.900" width="7.100" height="2.800" rx="1.300" fill="#333335"/>
    <rect x="11" y="3" width="2.900" height="4" fill="#333335"/>
    <path d="M3.900 6.100H21.500L24 8.300L20.600 12.400H4.800L1.400 8.300Z" fill="#2f2f31"/>
    <rect x="5.100" y="12.300" width="15.100" height="7.400" fill="#3f3f41"/>
    <path d="M4.200 18.800H20.900L19.500 20.700H5.600Z" fill="#333335"/>
    <path d="M8.200 20.600H16.500V22.500Q16.500 24 15 24H9.700Q8.200 24 8.200 22.500Z" fill="#3a3a3c"/>
    <circle cx="12.400" cy="16.800" r="3.400" fill="#e4e4e4"/>
    <ellipse cx="6.300" cy="16.500" rx="1.400" ry="2.800" fill="#dedede"/>
    <ellipse cx="18.900" cy="16.500" rx="1.400" ry="2.800" fill="#dedede"/>
  </symbol>
  <symbol id="ts" viewBox="0 0 38 74">
    <rect x="30.7" y="1" width="1.2" height="10" fill="#444"/>
    <path d="M6.400 23V11.100Q6.400 9.600 7.900 9.600H34.600Q36.100 9.600 36.100 11.100V23Z" fill="#262626"/>
    <rect x="7.900" y="11.200" width="26.700" height="11.500" fill="#d0021b"/>
    <rect x="10" y="15" width="21.200" height="6" fill="#262626"/>
    <rect x="10.800" y="15.700" width="19.600" height="4.600" fill="#fff"/>
    <rect x="0" y="29" width="4.500" height="6.600" fill="#3a3a3a"/><rect x="0" y="38.600" width="4.500" height="6.600" fill="#3a3a3a"/><rect x="0" y="48.200" width="4.500" height="6.600" fill="#3a3a3a"/>
    <path d="M5 21.500H36Q37.900 22 37.900 26V52Q37.900 65 29 65H12Q3.200 65 3.200 52V26Q3.200 22 5 21.500Z" fill="#d6001c"/>
    <rect x="13.600" y="21.500" width="14.400" height="41" fill="#b60f20"/>
    <circle cx="20.500" cy="34.800" r="6.400" fill="#2a2a2c"/>
    <rect x="13.600" y="48.500" width="13.500" height="3.600" fill="#fff"/>
    <path d="M9 65H32.500Q32.500 72.500 26 73.200H15.500Q9 72.500 9 65Z" fill="#1c1c1c"/>
  </symbol>
 </defs>
</svg>
</body>
</html>
